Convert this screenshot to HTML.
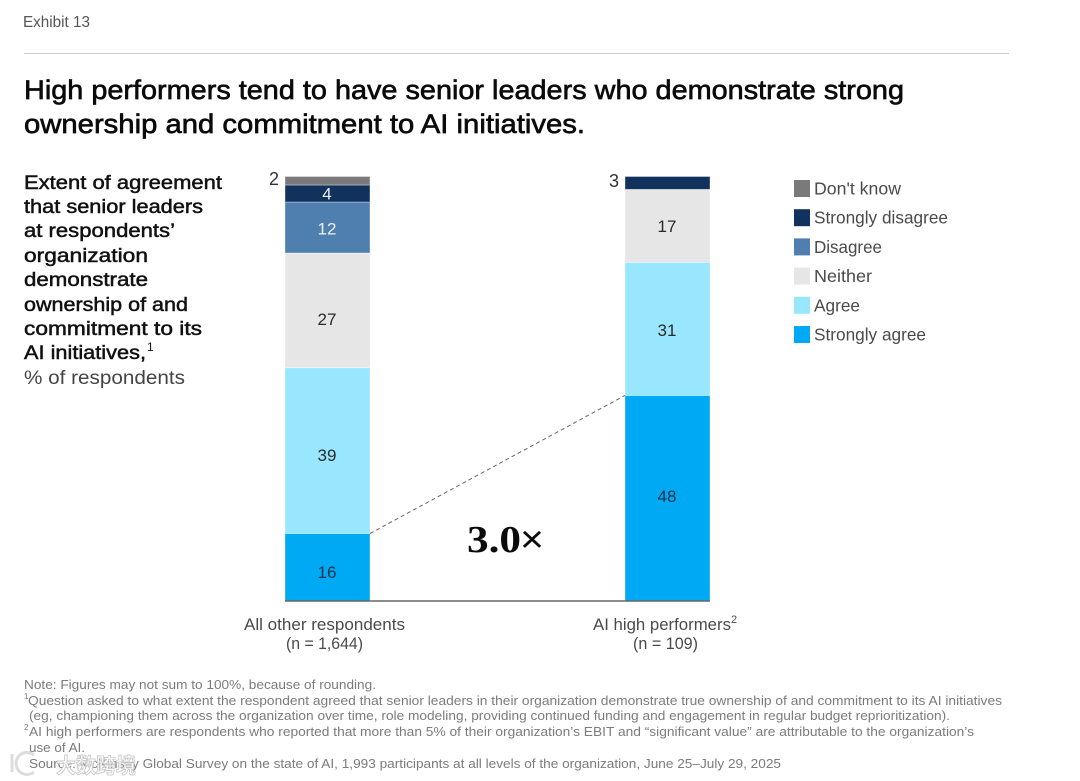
<!DOCTYPE html>
<html lang="en">
<head>
<meta charset="utf-8">
<title>High performers and senior leader ownership of AI</title>
<style>
html,body{margin:0;padding:0;background:#fff}
svg{display:block;font-family:"Liberation Sans",Arial,sans-serif}
.fn{font-size:13px;fill:#7b7b7b}
.lg{font-size:17.5px;fill:#4a4a4a}
.sub{font-size:19.5px;fill:#111;stroke:#111;stroke-width:.5px}
</style>
</head>
<body>
<svg id="chart" width="1080" height="781" viewBox="0 0 1080 781" xmlns="http://www.w3.org/2000/svg">
  <text x="23" y="27" font-size="16" fill="#555" textLength="67" lengthAdjust="spacingAndGlyphs">Exhibit 13</text>
  <line x1="24" y1="53.5" x2="1009" y2="53.5" stroke="#c8c8c8"/>
  <g font-size="27" fill="#0b0b0b" stroke="#0b0b0b" stroke-width="0.65">
    <text x="24" y="99" textLength="880" lengthAdjust="spacingAndGlyphs">High performers tend to have senior leaders who demonstrate strong</text>
    <text x="24" y="133" textLength="561" lengthAdjust="spacingAndGlyphs">ownership and commitment to AI initiatives.</text>
  </g>
  <g>
    <text class="sub" x="24" y="189" textLength="198" lengthAdjust="spacingAndGlyphs">Extent of agreement</text>
    <text class="sub" x="24" y="213" textLength="179" lengthAdjust="spacingAndGlyphs">that senior leaders</text>
    <text class="sub" x="24" y="237" textLength="151" lengthAdjust="spacingAndGlyphs">at respondents’</text>
    <text class="sub" x="24" y="262" textLength="124" lengthAdjust="spacingAndGlyphs">organization</text>
    <text class="sub" x="24" y="286" textLength="124" lengthAdjust="spacingAndGlyphs">demonstrate</text>
    <text class="sub" x="24" y="311" textLength="164" lengthAdjust="spacingAndGlyphs">ownership of and</text>
    <text class="sub" x="24" y="335" textLength="178" lengthAdjust="spacingAndGlyphs">commitment to its</text>
    <text class="sub" x="24" y="359" textLength="122" lengthAdjust="spacingAndGlyphs">AI initiatives,</text>
    <text x="147" y="351" font-size="12" fill="#111">1</text>
    <text x="24" y="384" font-size="19.5" fill="#444" textLength="161" lengthAdjust="spacingAndGlyphs">% of respondents</text>
  </g>
  <g id="bars"></g>
  <g id="legend"></g>
  <g font-size="17" fill="#4a4a4a">
    <text x="244" y="630" textLength="161" lengthAdjust="spacingAndGlyphs">All other respondents</text>
    <text x="286" y="649" textLength="77" lengthAdjust="spacingAndGlyphs">(n = 1,644)</text>
  </g>
  <g font-size="17" fill="#4a4a4a">
    <text x="593" y="630" textLength="138" lengthAdjust="spacingAndGlyphs">AI high performers</text>
    <text x="731" y="623" font-size="11">2</text>
    <text x="633" y="649" textLength="65" lengthAdjust="spacingAndGlyphs">(n = 109)</text>
  </g>
  <g>
    <text x="467" y="552" font-family="'Liberation Serif',serif" font-size="38" font-weight="bold" fill="#0b0b0b" textLength="54" lengthAdjust="spacingAndGlyphs">3.0</text>
    <text x="520" y="552" font-size="38" fill="#0b0b0b" textLength="24" lengthAdjust="spacingAndGlyphs">×</text>
  </g>
  <g>
    <text class="fn" x="24" y="689" textLength="352" lengthAdjust="spacingAndGlyphs">Note: Figures may not sum to 100%, because of rounding.</text>
    <text class="fn" x="24" y="699" style="font-size:8px">1</text>
    <text class="fn" x="28" y="705" textLength="974" lengthAdjust="spacingAndGlyphs">Question asked to what extent the respondent agreed that senior leaders in their organization demonstrate true ownership of and commitment to its AI initiatives</text>
    <text class="fn" x="29" y="720" textLength="921" lengthAdjust="spacingAndGlyphs">(eg, championing them across the organization over time, role modeling, providing continued funding and engagement in regular budget reprioritization).</text>
    <text class="fn" x="24" y="730" style="font-size:8px">2</text>
    <text class="fn" x="29" y="736" textLength="945" lengthAdjust="spacingAndGlyphs">AI high performers are respondents who reported that more than 5% of their organization’s EBIT and “significant value” are attributable to the organization’s</text>
    <text class="fn" x="29" y="752" textLength="56" lengthAdjust="spacingAndGlyphs">use of AI.</text>
    <text class="fn" x="29" y="768" textLength="752" lengthAdjust="spacingAndGlyphs">Source: McKinsey Global Survey on the state of AI, 1,993 participants at all levels of the organization, June 25–July 29, 2025</text>
  </g>
  <g>
    <path d="M12 754v18" fill="none" stroke="#dcdcdc" stroke-width="3"/>
    <path d="M34 755a11 11 0 1 0 0 17" fill="none" stroke="#dcdcdc" stroke-width="3"/>
    <text x="56" y="773" font-family="'Liberation Sans','Noto Sans CJK SC',sans-serif" font-size="21" font-weight="bold" fill="#fff" fill-opacity="0.75" stroke="#c4c4c4" stroke-width="0.8" textLength="80" lengthAdjust="spacingAndGlyphs">大数跨境</text>
  </g>
</svg>
<script>
const categories = ["All other respondents", "AI high performers"];
const seriesNames = ["Strongly agree", "Agree", "Neither", "Disagree", "Strongly disagree", "Don't know"];
const stronglyAgree = [16, 48];
const agree = [39, 31];
const neither = [27, 17];
const disagree = [12, 0];
const stronglyDisagree = [4, 3];
const dontKnow = [2, 0];

const seriesValues = [stronglyAgree, agree, neither, disagree, stronglyDisagree, dontKnow];
const fills = ["#00a9f4", "#99e6ff", "#e6e6e6", "#4f7fae", "#10325c", "#7a7a7a"];
const inks = ["#14324a", "#2a2a2a", "#2a2a2a", "#e8f0f8", "#e8f0f8", "#2a2a2a"];

const NS = "http://www.w3.org/2000/svg";
const barsG = document.getElementById("bars");
const legendG = document.getElementById("legend");
const plotTop = 176.5, plotBottom = 601.5, barWidth = 85;

function xBar(i) { return 285 + i * 340; }
function total(i) { return seriesValues.reduce((s, v) => s + v[i], 0); }
function yStack(i, cumulative) { return plotBottom - (cumulative / total(i)) * (plotBottom - plotTop); }
function slug(s) { return s.toLowerCase().replace(/[^a-z]+/g, "-"); }
function labelNudge(cat, s) {
  if (cat === 0) return s === 2 ? 8.5 : s < 2 ? 4.5 : s === 3 ? 1 : 0;
  return s === 0 ? -2.5 : s === 1 ? 1 : 0;
}

function make(tag, attrs, parent) {
  const el = document.createElementNS(NS, tag);
  for (const k in attrs) el.setAttribute(k, attrs[k]);
  parent.appendChild(el);
  return el;
}

categories.forEach((cat, i) => {
  let cum = 0;
  seriesValues.forEach((vals, s) => {
    const v = vals[i];
    if (!v) return;
    const y0 = yStack(i, cum), y1 = yStack(i, cum + v);
    const seg = make("rect", { x: xBar(i), y: y1, width: barWidth, height: y0 - y1, fill: fills[s], stroke: "#fff", "stroke-opacity": 0.45, "stroke-width": 0.8 }, barsG);
    
    
    const mid = (y0 + y1) / 2;
    const outside = (y0 - y1) < 15;
    const label = make("text", {
      x: outside ? xBar(i) - 6 : xBar(i) + barWidth / 2 - 0.5,
      y: mid + (outside ? 4 : 6 + labelNudge(i, s)),
      "text-anchor": outside ? "end" : "middle",
      "font-size": outside ? 18 : 17,
      fill: outside ? "#333" : inks[s]
    }, barsG);
    
    
    label.textContent = v;
    cum += v;
  });
});

const connector = make("line", {
  x1: xBar(0) + barWidth, y1: yStack(0, stronglyAgree[0]),
  x2: xBar(1), y2: yStack(1, stronglyAgree[1]),
  stroke: "#666", "stroke-width": 1, "stroke-dasharray": "4 3"
}, barsG);



const axis = make("line", { x1: xBar(0), y1: 601, x2: xBar(1) + barWidth, y2: 601, stroke: "#666", "stroke-width": 1.5 }, barsG);



const legendOrder = [5, 4, 3, 2, 1, 0];
const legendWidths = [87, 134, 68, 58, 46, 112];
legendOrder.forEach((s, row) => {
  const y = 180 + row * 29.2;
  const sw = make("rect", { x: 794, y: y, width: 16, height: 17, fill: fills[s] }, legendG);
  
  
  const t = make("text", { class: "lg", x: 814, y: y + 14.5, textLength: legendWidths[row], lengthAdjust: "spacingAndGlyphs" }, legendG);
  
  
  t.textContent = seriesNames[s];
});
</script>
</body>
</html>
